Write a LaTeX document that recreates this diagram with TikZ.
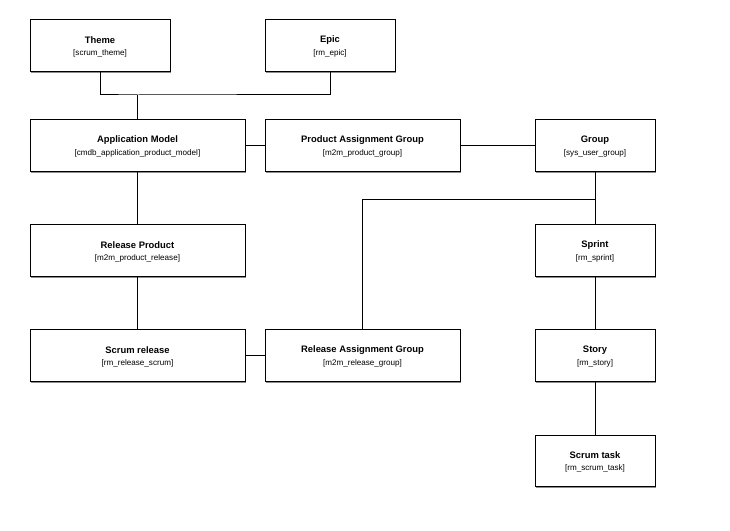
\documentclass[tikz,border=0pt]{standalone}
\usepackage{fontspec}
\setmainfont{Liberation Sans}
\usetikzlibrary{calc}
\tikzset{
  tbox/.style={draw=black, line width=1pt, fill=white, minimum height=51.5pt, inner sep=0pt},
  tshadow/.style={fill=black!45, draw=none},
  ttitle/.style={font=\bfseries\fontsize{9.4}{11}\selectfont, inner sep=0pt},
  tsub/.style={font=\fontsize{8.1}{9}\selectfont, inner sep=0pt},
  conn/.style={draw=black, line width=1pt}
}
\newcommand{\tablebox}[6]{%
  \fill[tshadow] (#2-#4/2+1.2,530-#3-25.75-1.2) rectangle (#2+#4/2+1.2,530-#3+25.75-1.2);
  \node[tbox, minimum width=#4pt] (#1) at (#2,530-#3) {};
  \node[ttitle] (#1-t) at ($(#1.north)+(0,-20.7)$) {#5};
  \node[tsub] (#1-s) at ($(#1.north)+(0,-34)$) {#6};
}
\begin{document}
\begin{tikzpicture}[x=1pt,y=1pt]
\useasboundingbox (0,0) rectangle (730,530);
\fill[white] (0,0) rectangle (730,530);
\coordinate (j1) at (137.5,530-95);
\coordinate (j2) at (595,530-200);
\tablebox{theme}{100}{45.75}{140}{Theme}{[scrum\_theme]}
\tablebox{epic}{330}{45.75}{130}{Epic}{[rm\_epic]}
\tablebox{app}{137.5}{145.75}{215}{Application Model}{[cmdb\_application\_product\_model]}
\tablebox{pag}{362.5}{145.75}{195}{Product Assignment Group}{[m2m\_product\_group]}
\tablebox{group}{595}{145.75}{120}{Group}{[sys\_user\_group]}
\tablebox{rp}{137.5}{250.75}{215}{Release Product}{[m2m\_product\_release]}
\tablebox{sprint}{595}{250.75}{120}{Sprint}{[rm\_sprint]}
\tablebox{sr}{137.5}{355.75}{215}{Scrum release}{[rm\_release\_scrum]}
\tablebox{rag}{362.5}{355.75}{195}{Release Assignment Group}{[m2m\_release\_group]}
\tablebox{story}{595}{355.75}{120}{Story}{[rm\_story]}
\tablebox{task}{595}{460.75}{120}{Scrum task}{[rm\_scrum\_task]}
% connectors
\draw[conn] (theme.south) |- (j1) -| (epic.south);
\draw[conn] (j1) -- (app.north);
\draw[conn] (app.east) -- (pag.west);
\draw[conn] (pag.east) -- (group.west);
\draw[conn] (app.south) -- (rp.north);
\draw[conn] (rp.south) -- (sr.north);
\draw[conn] (sr.east) -- (rag.west);
\draw[conn] ([xshift=-0.5pt]rag.north) |- (j2);
\draw[conn] (group.south) -- (sprint.north);
\draw[conn] (sprint.south) -- (story.north);
\draw[conn] (story.south) -- (task.north);
\end{tikzpicture}
\end{document}
